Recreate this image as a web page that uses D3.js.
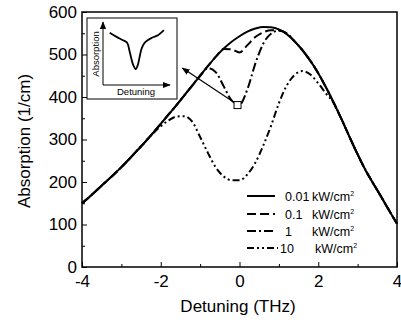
<!DOCTYPE html>
<html>
<head>
<meta charset="utf-8">
<script src="https://cdn.jsdelivr.net/npm/d3@7"></script>
<style>
  body { margin: 0; background: #fff; }
  svg { display: block; font-family: "Liberation Sans", Arial, sans-serif; }
</style>
</head>
<body>
<svg id="chart" width="401" height="328"></svg>
<script>
// detuning grid (THz)
const detuning = [-4.0,-3.8,-3.6,-3.4,-3.2,-3.0,-2.8,-2.6,-2.4,-2.2,-2.0,-1.8,-1.6,-1.4,-1.2,-1.0,-0.8,-0.6,-0.4,-0.2,
  0.0,0.2,0.4,0.6,0.8,1.0,1.2,1.4,1.6,1.8,2.0,2.2,2.4,2.6,2.8,3.0,3.2,3.4,3.6,3.8,4.0];

// absorption (1/cm) for each intensity
const abs001 = [150,166,183,200,217,235,254,274,294,315,337,359,381,404,427,450,473,495,514,530,
  543,554,561,565,564,559,548,531,510,485,456,422,385,346,305,265,228,196,165,133,102];
const abs01 = [150,166,183,200,217,235,254,274,294,315,337,359,381,404,427,450,473,495,513,512,
  505,522,541,552,557,557,549,531,510,485,456,422,385,346,305,265,228,196,165,133,102];
const abs1 = [150,166,183,200,217,235,254,274,294,315,337,359,381,404,427,450,468,458,425,392,
  382,418,478,525,549,556,550,531,510,485,456,422,385,346,305,265,228,196,165,133,102];
const abs10 = [150,166,183,200,217,235,254,274,294,314,331,345,354,355,342,306,268,234,213,204,
  204,218,245,285,332,385,427,452,461,453,432,408,385,346,305,265,228,196,165,133,102];

const legendLabels = ["0.01", "0.1", "1", "10"];
const xTicks = [-4, -2, 0, 2, 4];
const xMinor = [-3, -1, 1, 3];
const yTicks = [0, 100, 200, 300, 400, 500, 600];
const yMinor = [50, 150, 250, 350, 450, 550];

// inset sketch (arbitrary units)
const insetX = [0.10,0.21,0.30,0.36,0.40,0.45,0.49,0.52,0.58,0.63,0.73,0.82,0.91];
const insetY = [0.83,0.76,0.71,0.67,0.52,0.32,0.25,0.32,0.59,0.68,0.75,0.79,0.87];

// annotation: square on the 1 kW/cm2 dip, arrow pointing to the inset
const markPoint = [-0.05, 381];
const arrowTip = [-1.45, 468];

const svg = d3.select("#chart");
const margin = { top: 12, right: 4, bottom: 61, left: 82 };
const width = 401 - margin.left - margin.right,
  height = 328 - margin.top - margin.bottom;

const g = svg.append("g").attr("transform", "translate(" + margin.left + "," + margin.top + ")");

const x = d3.scaleLinear().domain([-4, 4]).range([0, width]);
const y = d3.scaleLinear().domain([0, 600]).range([height, 0]);

const defs = svg.append("defs");
defs.append("marker")
  .attr("id", "head")
  .attr("viewBox", "0 0 10 10")
  .attr("refX", 9).attr("refY", 5)
  .attr("markerWidth", 8).attr("markerHeight", 8)
  .attr("markerUnits", "userSpaceOnUse")
  .attr("orient", "auto")
  .append("path").attr("d", "M0,1 L10,5 L0,9 Z").attr("fill", "#000");

// axes with inward ticks
g.append("g")
  .attr("transform", "translate(0," + height + ")")
  .call(d3.axisBottom(x).tickValues(xTicks).tickSize(-5).tickPadding(8).tickFormat(d => String(d)));
g.append("g")
  .attr("transform", "translate(0," + height + ")")
  .call(d3.axisBottom(x).tickValues(xMinor).tickSize(-3).tickFormat(""));
g.append("g")
  .call(d3.axisLeft(y).tickValues(yTicks).tickSize(-5).tickPadding(5));
g.append("g")
  .call(d3.axisLeft(y).tickValues(yMinor).tickSize(-3).tickFormat(""));

g.selectAll(".domain").remove();
g.selectAll(".tick line").attr("stroke", "#000").attr("stroke-width", 1);
g.selectAll(".tick text").attr("font-size", 17).attr("fill", "#000")
  .attr("font-family", "Liberation Sans, Arial, sans-serif");

// curves
const line = d3.line()
  .x((d, i) => x(detuning[i]))
  .y(d => y(d))
  .curve(d3.curveMonotoneX);

const series = [
  { values: abs10, dash: "7,3,2,3,2,3" },
  { values: abs1, dash: "9,3,2,3" },
  { values: abs01, dash: "9,4" },
  { values: abs001, dash: null }
];

g.selectAll(".curve")
  .data(series)
  .enter().append("path")
  .attr("class", "curve")
  .attr("d", d => line(d.values))
  .attr("fill", "none")
  .attr("stroke", "#000")
  .attr("stroke-width", 2)
  .attr("stroke-dasharray", d => d.dash);

// frame
g.append("rect")
  .attr("width", width).attr("height", height)
  .attr("fill", "none").attr("stroke", "#000").attr("stroke-width", 1.5);

// arrow + square marker
const mx = x(markPoint[0]), my = y(markPoint[1]);
g.append("line")
  .attr("x1", mx - 4).attr("y1", my - 3)
  .attr("x2", x(arrowTip[0])).attr("y2", y(arrowTip[1]))
  .attr("stroke", "#000").attr("stroke-width", 1.2)
  .attr("marker-end", "url(#head)");
g.append("rect")
  .attr("x", mx - 3.5).attr("y", my - 3.5)
  .attr("width", 7).attr("height", 7)
  .attr("fill", "#fff").attr("stroke", "#000").attr("stroke-width", 1);

// inset
const inset = svg.append("g");
inset.append("rect")
  .attr("x", 87).attr("y", 18).attr("width", 90).attr("height", 81)
  .attr("fill", "#fff").attr("stroke", "#000").attr("stroke-width", 1);

const ix = d3.scaleLinear().domain([0, 1]).range([103, 170]);
const iy = d3.scaleLinear().domain([0, 1]).range([85, 22]);

inset.append("line")
  .attr("x1", ix(0)).attr("y1", iy(0)).attr("x2", ix(0)).attr("y2", iy(1))
  .attr("stroke", "#000").attr("stroke-width", 1).attr("marker-end", "url(#head)");
inset.append("line")
  .attr("x1", ix(0)).attr("y1", iy(0)).attr("x2", ix(1)).attr("y2", iy(0))
  .attr("stroke", "#000").attr("stroke-width", 1).attr("marker-end", "url(#head)");

inset.append("path")
  .attr("d", d3.line().x((d, i) => ix(insetX[i])).y(d => iy(d)).curve(d3.curveCatmullRom)(insetY))
  .attr("fill", "none").attr("stroke", "#000").attr("stroke-width", 1.8);

inset.append("text")
  .attr("transform", "translate(99,54) rotate(-90)")
  .attr("text-anchor", "middle")
  .attr("font-size", 9.5)
  .text("Absorption");
inset.append("text")
  .attr("x", 136).attr("y", 95)
  .attr("text-anchor", "middle")
  .attr("font-size", 9.5)
  .text("Detuning");

// axis titles
svg.append("text")
  .attr("x", 238).attr("y", 312)
  .attr("text-anchor", "middle")
  .attr("font-size", 17)
  .text("Detuning (THz)");
svg.append("text")
  .attr("transform", "translate(30,141) rotate(-90)")
  .attr("text-anchor", "middle")
  .attr("font-size", 17)
  .text("Absorption (1/cm)");

// legend
const legendRows = [196, 214, 231, 248];
const legendDash = [null, "9,4", "9,3,2,3", "7,3,2,3,2,3"];
const legend = svg.append("g")
  .selectAll("g")
  .data(legendLabels)
  .enter().append("g")
  .attr("transform", (d, i) => "translate(0," + legendRows[i] + ")");

legend.append("line")
  .attr("x1", 247).attr("x2", (d, i) => i === 3 ? 278 : 275)
  .attr("stroke", "#000").attr("stroke-width", 2)
  .attr("stroke-dasharray", (d, i) => legendDash[i]);

legend.append("text")
  .attr("x", (d, i) => i === 3 ? 280 : 285)
  .attr("y", 4.5)
  .attr("font-size", 12.5)
  .text(d => d);

const unit = legend.append("text")
  .attr("x", (d, i) => i === 3 ? 315 : 312)
  .attr("y", 4.5)
  .attr("font-size", 12.5);
unit.append("tspan").text("kW/cm");
unit.append("tspan").attr("font-size", 7).attr("dy", -5).text("2");
</script>
</body>
</html>
